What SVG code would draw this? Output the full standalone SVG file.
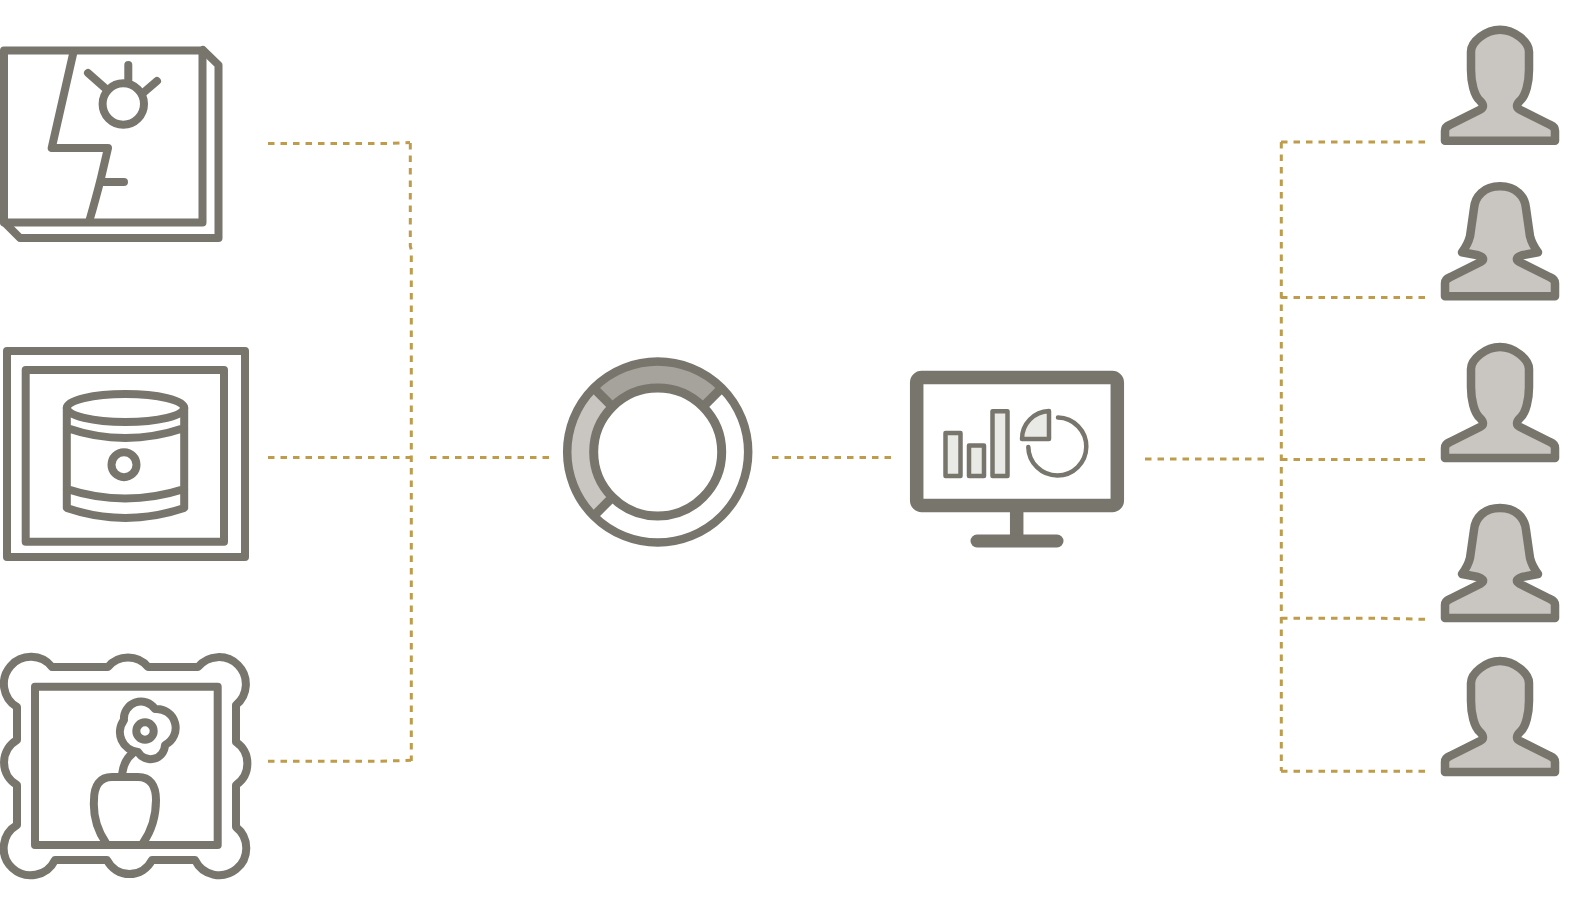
<svg xmlns="http://www.w3.org/2000/svg" width="1594" height="897" viewBox="0 0 1594 897">
<style>
.s{fill:none;stroke:#78756c;stroke-width:8;stroke-linejoin:round;stroke-linecap:round}
.w{fill:#fff}
.p{fill:#c9c5c0;stroke:#78756c;stroke-width:8.500;stroke-linejoin:round}
.b{fill:#e9e9e5;stroke:#78756c;stroke-width:4.500;stroke-linejoin:round;stroke-linecap:round}
.c{fill:none;stroke:#bf9b4c;stroke-width:3;stroke-dasharray:6.500 6}
</style>
<defs>
<path id="man" d="M0,0 C-14,0 -29,12 -29,22 V40 C-29,52 -26,66 -20,71 Q-14,77 -20,80 L-50,95 Q-55,97 -55,101 V111 H55 V101 Q55,97 50,95 L20,80 Q14,77 20,71 C26,66 29,52 29,40 V22 C29,12 14,0 0,0Z"/>
<path id="woman" d="M0,0 C-16,0 -25,10 -26,22 L-30,50 Q-32,58 -38,66 L-22,69 Q-13,72 -20,76 L-50,91 Q-55,93 -55,97 V110 H55 V97 Q55,93 50,91 L20,76 Q13,72 22,69 L38,66 Q32,58 30,50 L26,22 C25,10 16,0 0,0Z"/>
</defs>
<g id="connectors">
<path class="c" d="M268,143.500H390L410,142.500"/>
<path class="c" d="M410.300,143V246L411.300,250V761"/>
<path class="c" d="M268,761.300H378L411,760.300"/>
<path class="c" d="M268,457.500H411"/>
<path class="c" d="M430,457.500H551"/>
<path class="c" d="M772,457.500H893"/>
<path class="c" d="M1145,459H1267"/>
<path class="c" d="M1281.300,142V771"/>
<path class="c" d="M1281,142H1425"/>
<path class="c" d="M1281,297.500H1425"/>
<path class="c" d="M1281,459.500H1425"/>
<path class="c" d="M1281,618.300H1383L1425,619.300"/>
<path class="c" d="M1281,771.300H1425"/>
</g>
<g id="node-image">
<path class="s" d="M203,50L218.500,65V238H20L4,222"/>
<rect class="s" x="4" y="50.500" width="198.500" height="172"/>
<path class="s" d="M73.500,52L51.700,148H108L101,178Q96,198 89,222M103,182H124"/>
<circle class="s" cx="123.300" cy="104" r="20.700"/>
<path class="s" d="M128.300,65V80M88,73L105,88M157,81L143,93"/>
</g>
<g id="node-can">
<rect class="s" x="7" y="351" width="238" height="206"/>
<rect class="s" x="25.700" y="370" width="198.300" height="171.700"/>
<ellipse class="s" cx="125.500" cy="408" rx="58.700" ry="14"/>
<path class="s" d="M66.800,408V508Q125,528 184.200,508V408M66.800,428Q125,448 184.200,428M66.800,489Q125,508 184.200,489"/>
<circle class="s" cx="124" cy="464.700" r="12.500"/>
</g>
<g id="node-frame">
<path class="s" d="M52,667H108A26,26 0 0 1 148,667H198A27,27 0 1 1 236,705V742A26,26 0 0 1 236,785V827A27,27 0 1 1 195,860H152A25,25 0 0 1 107,860H55A27,27 0 1 1 17,825V785A26,26 0 0 1 17,740V707A27,27 0 1 1 52,667Z"/>
<rect class="s" x="35" y="686.700" width="182.700" height="158.300"/>
<path class="s" d="M106,843C97,830 93,815 94,800C94,785 100,777 112,777H138C150,777 156,785 156,800C156,815 152,830 143,843M122.300,773Q124,760 133,753"/>
<path class="s" d="M124,720A17,17 0 0 1 155,709A19,19 0 0 1 165,745A14.500,14.500 0 0 1 138,752A20,20 0 0 1 124,720Z"/>
<circle class="s" cx="145" cy="731" r="8.700"/>
</g>
<g id="node-ring">
<path d="M593.700,388A90.500,90.500 0 0 1 721.700,388L703,406.700A64,64 0 0 0 612.400,406.700Z" fill="#a6a29c"/>
<path d="M593.700,388A90.500,90.500 0 0 0 593.700,516L612.400,497.300A64,64 0 0 1 612.400,406.700Z" fill="#c9c5c0"/>
<circle class="s" cx="657.700" cy="452" r="90.500" style="stroke-width:8.500"/>
<circle class="s" cx="657.700" cy="452" r="64" style="stroke-width:9"/>
<path class="s" style="stroke-width:9;stroke-linecap:butt" d="M593.700,388L612.400,406.700M721.700,388L703,406.700M593.700,516L612.400,497.300"/>
</g>
<g id="node-monitor">
<rect x="916.700" y="377.500" width="200.600" height="128" rx="5" class="w" stroke="#78756c" stroke-width="13.500"/>
<path class="s" style="stroke-width:13.500;stroke-linecap:butt" d="M1016.700,512V535"/>
<path class="s" style="stroke-width:13" d="M977,541H1057"/>
<rect class="b" x="945.500" y="433" width="15" height="43"/>
<rect class="b" x="969" y="445.500" width="15" height="30.500"/>
<rect class="b" x="992.500" y="411.300" width="15" height="64.700"/>
<path class="b" d="M1049,411A28,28 0 0 0 1022,439H1049Z"/>
<path class="s" style="stroke-width:4.500" d="M1058,417.500A29,29 0 1 1 1028.300,447"/>
</g>
<g id="user-1"><use href="#man" class="p" x="1500" y="29.700"/></g>
<g id="user-2"><use href="#woman" class="p" x="1500" y="186.300"/></g>
<g id="user-3"><use href="#man" class="p" x="1500" y="347"/></g>
<g id="user-4"><use href="#woman" class="p" x="1500" y="508"/></g>
<g id="user-5"><use href="#man" class="p" x="1500" y="661"/></g>
</svg>
